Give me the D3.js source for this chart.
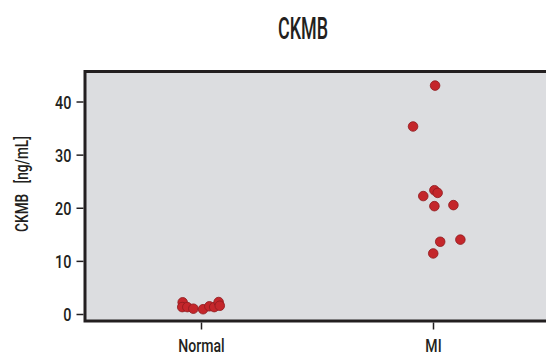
<!DOCTYPE html>
<html><head><meta charset="utf-8">
<script src="https://cdn.jsdelivr.net/npm/d3@7"></script>
<style>body{margin:0;background:#fff}svg{display:block}text{font-family:Roboto,"Liberation Sans",sans-serif;font-weight:500;fill:#231f20}</style>
</head><body>
<script>
const categories = ["Normal", "MI"];
const normalValues = [2.2, 1.3, 1.3, 1.0, 0.9, 1.45, 1.3, 2.25, 1.55];
const normalJitter = [-0.079, -0.081, -0.059, -0.033, 0.009, 0.036, 0.057, 0.076, 0.081];
const miValues = [43.0, 35.3, 22.2, 23.3, 22.8, 20.3, 20.5, 13.6, 14.0, 11.4];
const miJitter = [0.009, -0.086, -0.042, 0.006, 0.020, 0.006, 0.088, 0.031, 0.118, 0.001];
const yTicks = [0, 10, 20, 30, 40];
const title = "CKMB";
const yLabel = "CKMB\u00a0\u00a0\u00a0[ng/mL]";

const W = 546, H = 356;
const mLeft = 85, mTop = 71.5, mBottom = 321, mRight = 600;
const svg = d3.select("body").append("svg").attr("width", W).attr("height", H);

const y = d3.scaleLinear().domain([-1.318, 45.65]).range([mBottom, mTop]);
const x = d3.scalePoint().domain(categories).range([201, 433]);
const step = x(categories[1]) - x(categories[0]);

svg.append("rect").attr("x", mLeft).attr("y", mTop).attr("width", mRight - mLeft).attr("height", mBottom - mTop)
  .attr("fill", "#dcdde0").attr("stroke", "#231f20").attr("stroke-width", 3);

// y axis
const ya = svg.append("g").attr("transform", `translate(${mLeft - 1.5},0)`)
  .call(d3.axisLeft(y).tickValues(yTicks).tickSize(7).tickPadding(5).tickFormat(d3.format("d")));
ya.attr("font-family", null).attr("font-size", null);
ya.select(".domain").remove();
ya.selectAll("line").attr("stroke", "#231f20").attr("stroke-width", 1.5);
ya.selectAll("text").attr("font-size", 19).attr("fill", "#231f20").attr("dy", "0.35em")
  .attr("x", 0).attr("transform", "translate(-12,0) scale(0.76,1)");

// x axis
const xa = svg.append("g").attr("transform", `translate(0,${mBottom + 1.5})`)
  .call(d3.axisBottom(x).tickSize(7).tickPadding(9));
xa.attr("font-family", null).attr("font-size", null);
xa.select(".domain").remove();
xa.selectAll("line").attr("stroke", "#231f20").attr("stroke-width", 1.5);
xa.selectAll("text").attr("font-size", 18.5).attr("fill", "#231f20").attr("transform", "scale(0.76,1)");

const pts = [];
normalValues.forEach((v, i) => pts.push({c: "Normal", v, j: normalJitter[i]}));
miValues.forEach((v, i) => pts.push({c: "MI", v, j: miJitter[i]}));

svg.append("g").selectAll("circle").data(pts).join("circle")
  .attr("cx", d => x(d.c) + d.j * step)
  .attr("cy", d => y(d.v))
  .attr("r", 4.8)
  .attr("fill", "#c4262b")
  .attr("stroke", "#8e1b1e")
  .attr("stroke-width", 0.8);

svg.append("text").attr("transform", "translate(303,39) scale(0.56,1)").attr("text-anchor", "middle")
  .attr("font-size", 32).text(title);

svg.append("text").attr("transform", "translate(27.5,184) rotate(-90) scale(0.74,1)").attr("text-anchor", "middle")
  .attr("font-size", 18.5).text(yLabel);
</script>
</body></html>
